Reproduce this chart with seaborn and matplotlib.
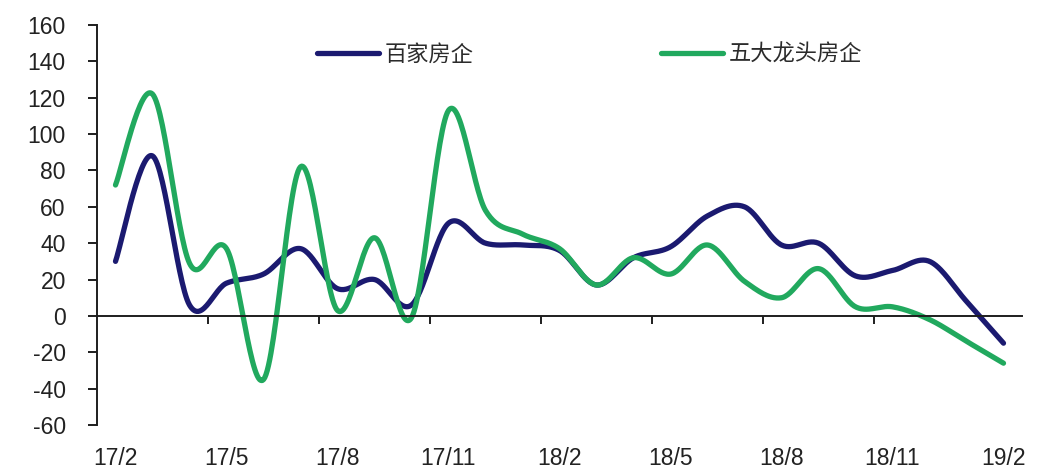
import numpy as np
import pandas as pd
import matplotlib
matplotlib.use("Agg")
import matplotlib.pyplot as plt
from matplotlib.lines import Line2D
import seaborn as sns

# Monthly data, 2017/02 - 2019/02
months = ["17/2", "17/3", "17/4", "17/5", "17/6", "17/7", "17/8", "17/9", "17/10",
          "17/11", "17/12", "18/1", "18/2", "18/3", "18/4", "18/5", "18/6", "18/7",
          "18/8", "18/9", "18/10", "18/11", "18/12", "19/1", "19/2"]
tick_labels = ["17/2", "17/5", "17/8", "17/11", "18/2", "18/5", "18/8", "18/11", "19/2"]
top100 = [30, 88, 6, 18, 23, 37, 15, 20, 6, 51, 40, 39, 36, 17, 32, 38, 55, 60,
          39, 40, 22, 25, 30, 8, -15]
top5 = [72, 122, 29, 37, -35, 82, 3, 43, -1, 113, 58, 45, 37, 17, 32, 23, 39, 19,
        10, 26, 5, 5, -2, -14, -26]
series_names = ["百家房企", "五大龙头房企"]
colors = ["#1b1a70", "#21a95e"]


def smooth(values, steps=30):
    """Bezier-smoothed polyline through the points (spreadsheet style)."""
    y = np.asarray(values, dtype=float)
    x = np.arange(len(y), dtype=float)
    p = np.column_stack([x, y])
    ext = np.vstack([p[0], p, p[-1]])
    t = np.linspace(0, 1, steps, endpoint=False)[:, None]
    parts = []
    for i in range(len(p) - 1):
        p0, p1, p2, p3 = ext[i], ext[i + 1], ext[i + 2], ext[i + 3]
        c1 = p1 + (p2 - p0) / 6.0
        c2 = p2 - (p3 - p1) / 6.0
        b = ((1 - t) ** 3) * p1 + 3 * ((1 - t) ** 2) * t * c1 \
            + 3 * (1 - t) * t ** 2 * c2 + t ** 3 * p2
        parts.append(b)
    parts.append(p[-1][None, :])
    return np.vstack(parts)


frames = []
for name, vals in zip(series_names, [top100, top5]):
    curve = smooth(vals)
    frames.append(pd.DataFrame({"x": curve[:, 0], "y": curve[:, 1], "series": name}))
df = pd.concat(frames, ignore_index=True)

sns.set_style("white")
plt.rcParams["font.family"] = ["Liberation Sans", "Noto Sans CJK SC", "DejaVu Sans"]
plt.rcParams["axes.unicode_minus"] = False

fig = plt.figure(figsize=(10.6, 4.69), dpi=100)
ax = fig.add_axes([97 / 1060, 1 - 425 / 469, 925 / 1060, 400 / 469])

sns.lineplot(data=df, x="x", y="y", hue="series", palette=dict(zip(series_names, colors)),
             sort=False, estimator=None, linewidth=3.8, legend=False, ax=ax)

ax.set_xlim(-0.5, len(months) - 0.5)
ax.set_ylim(-60, 160)
ax.set_yticks(np.arange(-60, 161, 20))
ax.set_xlabel("")
ax.set_ylabel("")

axis_color = "#1e1e1e"
for side in ["top", "right"]:
    ax.spines[side].set_visible(False)
ax.spines["left"].set_color(axis_color)
ax.spines["left"].set_linewidth(1.4)
ax.spines["bottom"].set_position(("data", 0))
ax.spines["bottom"].set_color(axis_color)
ax.spines["bottom"].set_linewidth(1.4)

# tick marks on the zero line between quarters
ax.set_xticks(np.arange(2.5, 21, 3))
ax.set_xticklabels([])
ax.tick_params(axis="x", direction="out", length=6, width=1.4, color=axis_color, bottom=True)
ax.tick_params(axis="y", direction="out", length=6.5, width=1.4, color=axis_color, left=True,
               pad=16, labelsize=16.5, labelcolor="#222222")

# month labels along the bottom of the plot area
sec = ax.secondary_xaxis(0.0)
sec.set_xticks(np.arange(0, len(months), 3))
sec.set_xticklabels(tick_labels)
sec.tick_params(axis="x", length=0, pad=16, labelsize=16.5, labelcolor="#222222")
sec.spines["bottom"].set_visible(False)

handles = [Line2D([], [], color=c, lw=3.8) for c in colors]
ax.legend(handles, series_names, loc="center left", bbox_to_anchor=(0.238, 0.9275),
          ncol=2, frameon=False, borderpad=0, borderaxespad=0, handlelength=2.8,
          handletextpad=0.25, columnspacing=8.4,
          prop={"family": ["Noto Sans CJK SC"], "size": 16}, labelcolor="#2b2b2b")

fig.savefig("out.png", dpi=100)
